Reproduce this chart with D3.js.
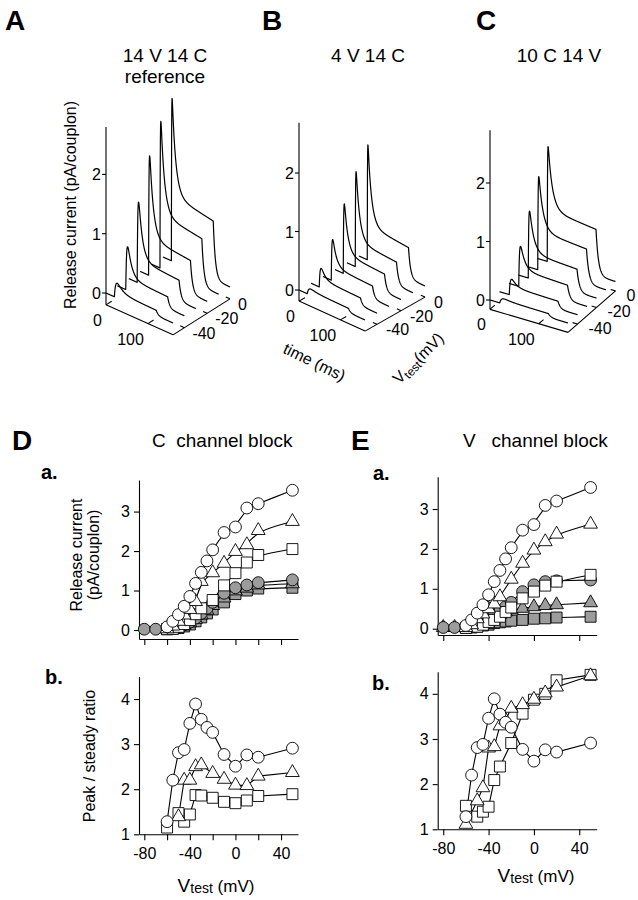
<!DOCTYPE html>
<html><head><meta charset="utf-8">
<script src="https://cdn.jsdelivr.net/npm/d3@7"></script>
<style>body{margin:0;background:#fff}svg{display:block}</style>
</head><body><svg id="fig" width="638" height="900"></svg>
<script>
// ================= DATA =================
const traceV   = [-50, -40, -30, -20, -10, 0];
const A_peak   = [0.27, 0.78, 1.42, 2.08, 2.54, 2.80];
const A_steady = [0.10, 0.22, 0.40, 0.64, 0.92, 1.12];
const B_peak   = [0.12, 0.36, 0.74, 1.23, 1.66, 2.00];
const B_steady = [0.08, 0.15, 0.25, 0.35, 0.45, 0.60];
const C_peak   = [0.10, 0.30, 0.73, 1.19, 1.64, 2.01];
const C_steady = [0.07, 0.15, 0.30, 0.45, 0.68, 0.90];
const riseTau  = [4, 2.5, 1.6, 1.0, 0.7, 0.5];
const decayTau = [12, 9, 8.5, 8.5, 8.5, 8.5];
const zTickVals = [0, 1, 2];
const tTickVals = [0, 100];
const vTickVals = [-40, -20, 0];

const Da_circ_x = [-60,-55,-50,-45,-40,-35,-30,-25,-20,-10,0,10,20,50];
const Da_circ_y = [0.08,0.22,0.39,0.60,0.85,1.18,1.46,1.75,2.03,2.47,2.61,3.09,3.20,3.54];
const Da_tri_x  = [-60,-55,-50,-45,-40,-35,-30,-20,-10,0,10,20,50];
const Da_tri_y  = [0.03,0.10,0.22,0.38,0.52,0.72,1.23,1.45,1.69,1.99,2.16,2.52,2.75];
const Da_sq_x   = [-60,-55,-50,-45,-40,-35,-30,-20,-10,0,10,20,50];
const Da_sq_y   = [0.02,0.03,0.08,0.15,0.25,0.40,0.55,0.76,1.13,1.44,1.71,1.90,2.05];
const Da_gcirc_x= [-80,-70,-60,-55,-50,-45,-40,-35,-30,-25,-20,-10,0,10,20,50];
const Da_gcirc_y= [0.02,0.02,0.04,0.06,0.09,0.13,0.20,0.30,0.42,0.55,0.70,0.93,1.07,1.14,1.20,1.27];
const Da_gtri_x = [-60,-55,-50,-45,-40,-35,-30,-25,-20,-10,0,10,20,50];
const Da_gtri_y = [0.03,0.05,0.08,0.12,0.18,0.27,0.38,0.50,0.62,0.81,0.99,1.06,1.14,1.17];
const Da_gsq_x  = [-60,-55,-50,-45,-40,-35,-30,-25,-20,-10,0,10,20,50];
const Da_gsq_y  = [0.02,0.03,0.05,0.09,0.14,0.22,0.32,0.42,0.52,0.70,0.91,1.00,1.05,1.07];

const Db_circ_x = [-60,-55,-50,-45,-40,-35,-30,-25,-20,-10,0,10,20,50];
const Db_circ_y = [1.28,2.20,2.81,2.88,3.46,3.89,3.55,3.37,3.26,2.77,2.51,2.76,2.71,2.91];
const Db_tri_x  = [-50,-45,-40,-35,-30,-20,-10,0,10,20,50];
const Db_tri_y  = [1.39,2.20,2.20,2.50,2.54,2.35,2.22,2.09,2.08,2.29,2.37];
const Db_sq_x   = [-60,-50,-45,-40,-35,-30,-20,-10,0,10,20,50];
const Db_sq_y   = [1.15,1.47,1.28,1.44,1.87,1.86,1.81,1.72,1.69,1.75,1.85,1.89];

const Ea_circ_x = Da_circ_x;
const Ea_circ_y = Da_circ_y;
const Ea_tri_x  = [-60,-55,-50,-45,-40,-35,-30,-20,-10,0,10,20,50];
const Ea_tri_y  = [0.03,0.10,0.25,0.37,0.50,0.62,0.80,1.24,1.64,1.97,2.18,2.37,2.62];
const Ea_sq_x   = [-60,-50,-45,-40,-35,-30,-25,-20,-10,0,10,20,50];
const Ea_sq_y   = [0.02,0.05,0.10,0.17,0.22,0.30,0.42,0.53,0.76,0.93,1.08,1.18,1.35];
const Ea_gcirc_x= [-80,-70,-60,-55,-50,-45,-40,-35,-30,-25,-20,-10,0,10,20,50];
const Ea_gcirc_y= [0.03,0.03,0.05,0.08,0.12,0.18,0.25,0.35,0.45,0.55,0.66,0.93,1.10,1.18,1.20,1.22];
const Ea_gtri_x = [-80,-70,-60,-55,-50,-45,-40,-35,-30,-25,-20,-10,0,10,20,50];
const Ea_gtri_y = [0.03,0.03,0.04,0.06,0.10,0.15,0.22,0.30,0.36,0.42,0.47,0.51,0.55,0.58,0.60,0.65];
const Ea_gsq_x  = [-60,-55,-50,-45,-40,-35,-30,-25,-20,-10,0,10,20,50];
const Ea_gsq_y  = [0.02,0.03,0.05,0.08,0.10,0.14,0.16,0.18,0.20,0.22,0.25,0.26,0.28,0.30];

const Eb_circ_x = Db_circ_x;
const Eb_circ_y = Db_circ_y;
const Eb_tri_x  = [-60,-50,-45,-40,-35,-30,-25,-20,-10,0,10,20,50];
const Eb_tri_y  = [1.11,1.63,1.92,2.80,2.83,3.29,3.42,3.68,3.76,3.88,4.02,4.15,4.40];
const Eb_sq_x   = [-60,-50,-45,-40,-35,-30,-20,-10,0,10,20,50];
const Eb_sq_y   = [1.52,1.28,1.39,1.50,2.09,2.39,2.91,3.56,3.87,4.00,4.30,4.42];

const xTicksD = [-80,-60,-40,-20,0,20,40];
const xTicksE = [-80,-40,0,40];
const xLabels = [-80,-40,0,40];
const yTicksA = [0,1,2,3];
const yTicksB = [1,2,3,4];

// ================= DRAWING =================
const FONT = "'Liberation Sans', Arial, Helvetica, sans-serif";
const svg = d3.select('#fig');
const GRAY = '#9c9c9c';

function txt(x, y, s, opt = {}) {
  return svg.append('text').attr('x', x).attr('y', y).text(s)
    .attr('font-family', FONT).attr('font-size', opt.size || 16)
    .attr('font-weight', opt.bold ? 'bold' : 'normal')
    .attr('text-anchor', opt.anchor || 'start')
    .style('white-space', 'pre')
    .attr('transform', opt.rot ? `rotate(${opt.rot},${x},${y})` : null);
}

const ON = 20, OFF = 120, TOFF = 5;
function shape(s, tr, td) { return (1 - Math.exp(-s / tr)) * Math.exp(-s / td); }
function wave(t, pk, ss, tr, td) {
  let norm = 0;
  for (let s = 0; s < 100; s += 0.1) norm = Math.max(norm, shape(s, tr, td));
  const inside = tt => {
    const s = tt - ON;
    return ss * (1 - Math.exp(-s / tr)) * (1 - 0.0012 * s) + (pk - ss) * shape(s, tr, td) / norm;
  };
  if (t < ON) return 0;
  if (t <= OFF) return inside(t);
  return inside(OFF) * Math.exp(-(t - OFF) / TOFF);
}

function draw3D(cfg) {
  const g = svg.append('g');
  const tX = d3.scaleLinear().domain([0, 160]).range([0, cfg.tLen[0]]);
  const tY = d3.scaleLinear().domain([0, 160]).range([0, cfg.tLen[1]]);
  const vX = d3.scaleLinear().domain([-50, 0]).range([0, cfg.vLen[0]]);
  const vY = d3.scaleLinear().domain([-50, 0]).range([0, cfg.vLen[1]]);
  const zY = d3.scaleLinear().domain([0, 1]).range([0, -cfg.zUnit]);
  const P = (t, v, z) => [cfg.o[0] + tX(t) + vX(v), cfg.o[1] + tY(t) + vY(v) + zY(z)];
  const line = d3.line();
  const axStyle = s => s.attr('fill', 'none').attr('stroke', '#000').attr('stroke-width', 1.1);

  g.append('path').attr('d', line([P(0, -50, cfg.zMin), P(0, -50, cfg.zMax)])).call(axStyle);
  g.append('path').attr('d', line([P(0, -50, cfg.zMin), P(160, -50, cfg.zMin)])).call(axStyle);
  g.append('path').attr('d', line([P(160, -50, cfg.zMin), P(160, 0, cfg.zMin)])).call(axStyle);

  zTickVals.forEach(z => {
    const p = P(0, -50, z);
    g.append('path').attr('d', line([[p[0] - 4, p[1]], p])).call(axStyle);
    txt(p[0] - 5, p[1] + 6, String(z), { anchor: 'end' });
  });
  tTickVals.forEach(t => {
    const p = P(t, -50, cfg.zMin);
    g.append('path').attr('d', line([p, P(t, -45, cfg.zMin)])).call(axStyle);
    txt(p[0] - 4, p[1] + 21, String(t), { anchor: 'end' });
  });
  vTickVals.forEach(v => {
    const p = P(160, v, cfg.zMin);
    g.append('path').attr('d', line([p, P(150, v, cfg.zMin)])).call(axStyle);
    txt(p[0] + cfg.vLab[0], p[1] + cfg.vLab[1], String(v), {});
  });

  const ts = d3.range(0, 160.01, 0.5);
  traceV.forEach((v, k) => {
    const pts = ts.map(t => P(t, v, wave(t, cfg.peak[k], cfg.steady[k], riseTau[k], decayTau[k])));
    g.append('path').attr('d', line(pts)).attr('fill', 'none')
      .attr('stroke', '#000').attr('stroke-width', 1.2).attr('stroke-linejoin', 'round');
  });
}

draw3D({ o: [106, 293], tLen: [67, 30], vLen: [57, -36], zUnit: 59.3, zMin: -0.2, zMax: 2.8,
  peak: A_peak, steady: A_steady, vLab: [8, 11] });
draw3D({ o: [299, 290], tLen: [66, 30], vLen: [60, -34], zUnit: 58.5, zMin: -0.19, zMax: 2.86,
  peak: B_peak, steady: B_steady, vLab: [9, 11] });
draw3D({ o: [490, 300], tLen: [78, 23], vLen: [47.5, -41.5], zUnit: 58.5, zMin: -0.16, zMax: 2.9,
  peak: C_peak, steady: C_steady, vLab: [11, 10] });

txt(5, 30, 'A', { size: 28, bold: true });
txt(262, 30, 'B', { size: 28, bold: true });
txt(476, 30, 'C', { size: 28, bold: true });
txt(165, 62, '14 V 14 C', { size: 19, anchor: 'middle' });
txt(165, 83, 'reference', { size: 19, anchor: 'middle' });
txt(368, 62, '4 V 14 C', { size: 19, anchor: 'middle' });
txt(559, 62, '10 C 14 V', { size: 19, anchor: 'middle' });
txt(76, 205, 'Release current (pA/couplon)', { size: 16, anchor: 'middle', rot: -90 });
txt(312, 367, 'time (ms)', { size: 16, anchor: 'middle', rot: 26 });
{
  const t = txt(422, 362, '', { size: 16, anchor: 'middle', rot: -45 });
  t.append('tspan').text('V');
  t.append('tspan').attr('font-size', 12).attr('dy', 3).text('test');
  t.append('tspan').attr('dy', -3).text('(mV)');
}

function sym(type, size) { return d3.symbol().type(type).size(size)(); }
function draw2D(cfg) {
  const g = svg.append('g');
  const x = d3.scaleLinear().domain(cfg.xDom).range(cfg.xRange);
  const y = d3.scaleLinear().domain(cfg.yDom).range(cfg.yRange);
  const ax = g.append('g').attr('transform', `translate(0,${cfg.yRange[0]})`)
    .call(d3.axisBottom(x).tickValues(cfg.xTicks).tickSize(6).tickSizeOuter(0).tickPadding(7)
      .tickFormat(d => cfg.xLab && xLabels.includes(d) ? String(d) : ''));
  const ay = g.append('g').attr('transform', `translate(${cfg.xRange[0]},0)`)
    .call(d3.axisLeft(y).tickValues(cfg.yTicks).tickSize(5).tickSizeOuter(0).tickPadding(4)
      .tickFormat(d => String(d)));
  [ax, ay].forEach(a => {
    a.selectAll('path,line').attr('stroke', '#000').attr('stroke-width', 1.1);
    a.selectAll('text').attr('font-family', FONT).attr('font-size', 16).attr('fill', '#000');
  });
  const curve = cfg.smooth ? d3.curveBasis : d3.curveLinear;
  const ln = d3.line().x(d => x(d[0])).y(d => y(d[1])).curve(curve);
  cfg.series.forEach(s => {
    const pts = s.x.map((v, i) => [v, s.y[i]]);
    g.append('path').attr('d', ln(pts)).attr('fill', 'none').attr('stroke', '#000').attr('stroke-width', 1.1);
  });
  cfg.series.forEach(s => {
    const d = s.type === 'c' ? sym(d3.symbolCircle, 110) : s.type === 't' ? sym(d3.symbolTriangle, 82) : sym(d3.symbolSquare, 120);
    s.x.forEach((v, i) => {
      g.append('path').attr('d', d).attr('transform', `translate(${x(v)},${y(s.y[i])})`)
        .attr('fill', s.gray ? GRAY : '#fff').attr('stroke', '#000').attr('stroke-width', 0.9);
    });
  });
}

draw2D({ xDom: [-84.65, 54.9], xRange: [139, 298], yDom: [-0.228, 3.8], yRange: [639, 480],
  xTicks: xTicksD, yTicks: yTicksA, xLab: false, smooth: true,
  series: [
    { x: Da_gsq_x, y: Da_gsq_y, type: 's', gray: true },
    { x: Da_gtri_x, y: Da_gtri_y, type: 't', gray: true },
    { x: Da_gcirc_x, y: Da_gcirc_y, type: 'c', gray: true },
    { x: Da_sq_x, y: Da_sq_y, type: 's' },
    { x: Da_tri_x, y: Da_tri_y, type: 't' },
    { x: Da_circ_x, y: Da_circ_y, type: 'c' }] });
draw2D({ xDom: [-84.65, 54.9], xRange: [139, 298], yDom: [1, 4.5], yRange: [834.3, 676.5],
  xTicks: xTicksD, yTicks: yTicksB, xLab: true, smooth: false,
  series: [
    { x: Db_sq_x, y: Db_sq_y, type: 's' },
    { x: Db_tri_x, y: Db_tri_y, type: 't' },
    { x: Db_circ_x, y: Db_circ_y, type: 'c' }] });
draw2D({ xDom: [-84.9, 55.4], xRange: [437.7, 596.7], yDom: [-0.158, 3.81], yRange: [635, 476.7],
  xTicks: xTicksE, yTicks: yTicksA, xLab: false, smooth: true,
  series: [
    { x: Ea_gsq_x, y: Ea_gsq_y, type: 's', gray: true },
    { x: Ea_gtri_x, y: Ea_gtri_y, type: 't', gray: true },
    { x: Ea_gcirc_x, y: Ea_gcirc_y, type: 'c', gray: true },
    { x: Ea_sq_x, y: Ea_sq_y, type: 's' },
    { x: Ea_tri_x, y: Ea_tri_y, type: 't' },
    { x: Ea_circ_x, y: Ea_circ_y, type: 'c' }] });
draw2D({ xDom: [-84.9, 55.4], xRange: [437.7, 596.7], yDom: [1, 4.49], yRange: [829.3, 671.7],
  xTicks: xTicksE, yTicks: yTicksB, xLab: true, smooth: false,
  series: [
    { x: Eb_sq_x, y: Eb_sq_y, type: 's' },
    { x: Eb_tri_x, y: Eb_tri_y, type: 't' },
    { x: Eb_circ_x, y: Eb_circ_y, type: 'c' }] });

txt(12, 450, 'D', { size: 28, bold: true });
txt(351, 450, 'E', { size: 28, bold: true });
txt(152, 447, 'C  channel block', { size: 19 });
txt(463, 447, 'V   channel block', { size: 19 });
txt(41, 479, 'a.', { size: 20, bold: true });
txt(45, 684, 'b.', { size: 20, bold: true });
txt(373, 480, 'a.', { size: 20, bold: true });
txt(372, 690, 'b.', { size: 20, bold: true });
txt(82, 555, 'Release current', { size: 16, anchor: 'middle', rot: -90 });
txt(99, 555, '(pA/couplon)', { size: 16, anchor: 'middle', rot: -90 });
txt(95, 756, 'Peak / steady ratio', { size: 16, anchor: 'middle', rot: -90 });
function vtest(cx, y) {
  const t = txt(cx, y, '', { size: 17, anchor: 'middle' });
  t.append('tspan').attr('font-size', 19).text('V');
  t.append('tspan').attr('font-size', 14).attr('dy', 1).text('test');
  t.append('tspan').attr('dy', -1).text(' (mV)');
}
vtest(216, 892);
vtest(536, 882);
</script></body></html>
